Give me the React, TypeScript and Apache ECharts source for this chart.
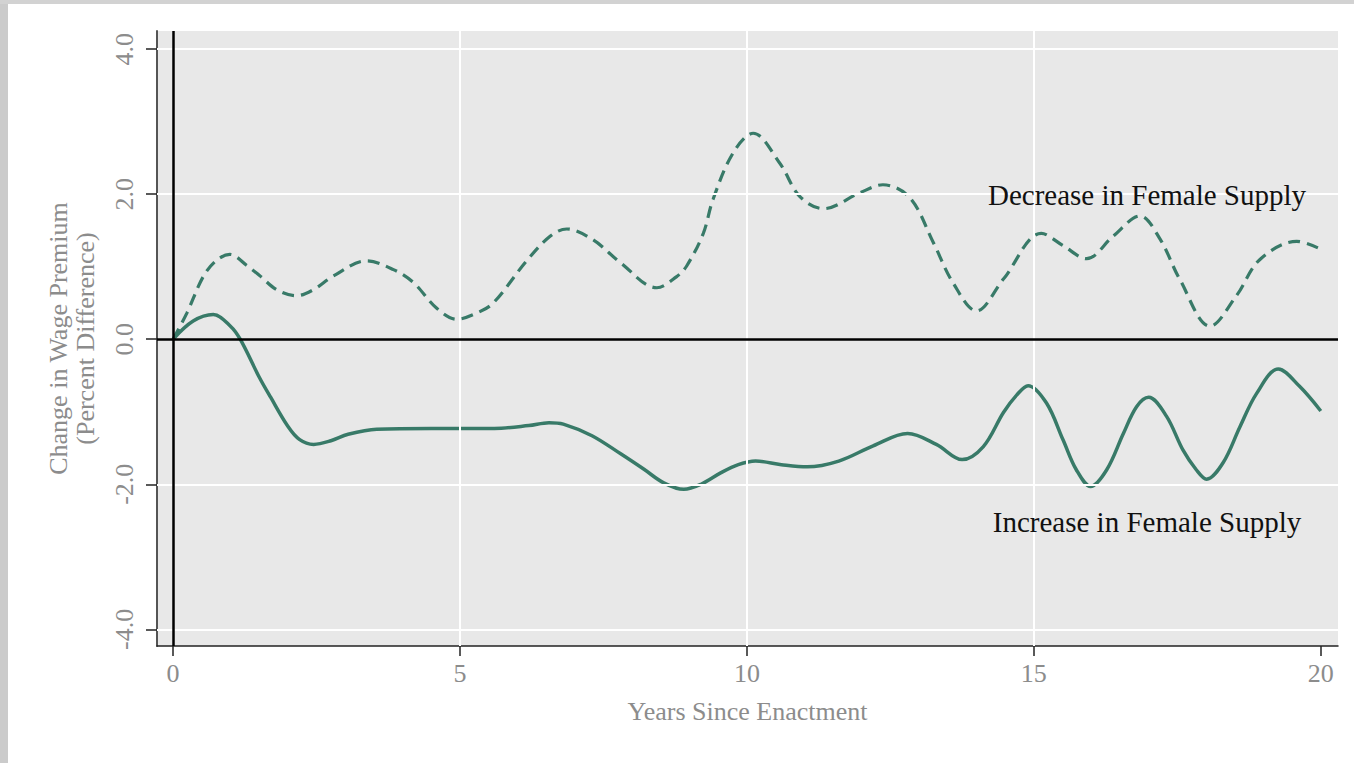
import React, { useEffect, useRef } from "react";
import * as echarts from "echarts";

// Years since enactment and change in wage premium (percent difference)
const increaseT = [0, 0.35, 0.7, 1.0, 1.17, 1.5, 1.7, 2.0, 2.2, 2.45, 2.75, 3.05, 3.55, 4.5, 5.6, 6.2, 6.55, 6.8, 7.3, 7.8, 8.2, 8.55, 8.9, 9.2, 9.55, 9.85, 10.15, 10.6, 11.05, 11.6, 12.2, 12.8, 13.3, 13.75, 14.12, 14.47, 14.7, 14.9, 15.22, 15.51, 15.74, 15.99, 16.27, 16.56, 16.79, 17.0, 17.31, 17.6, 17.83, 18.01, 18.3, 18.59, 18.88, 19.26, 19.63, 20.0];
const increaseV = [0, 0.25, 0.34, 0.18, 0, -0.52, -0.8, -1.2, -1.38, -1.45, -1.4, -1.31, -1.24, -1.23, -1.23, -1.19, -1.15, -1.17, -1.33, -1.58, -1.79, -1.98, -2.07, -2.0, -1.84, -1.73, -1.68, -1.73, -1.76, -1.68, -1.47, -1.3, -1.45, -1.66, -1.48, -1.01, -0.77, -0.64, -0.88, -1.39, -1.8, -2.03, -1.8, -1.3, -0.93, -0.8, -1.06, -1.53, -1.8, -1.93, -1.7, -1.21, -0.75, -0.41, -0.65, -0.99];

const decreaseT = [0, 0.24, 0.53, 0.76, 0.99, 1.28, 1.52, 1.81, 2.15, 2.44, 2.79, 3.37, 3.84, 4.19, 4.59, 4.94, 5.29, 5.58, 6.16, 6.57, 6.86, 7.32, 7.79, 8.43, 8.77, 8.95, 9.24, 9.41, 9.76, 10.11, 10.57, 10.92, 11.33, 11.97, 12.37, 12.84, 13.25, 13.59, 14.0, 14.47, 15.13, 15.51, 15.92, 16.38, 16.85, 17.2, 17.54, 18.07, 18.53, 18.94, 19.58, 19.95];
const decreaseV = [0, 0.36, 0.87, 1.09, 1.17, 1.02, 0.87, 0.68, 0.6, 0.68, 0.87, 1.08, 0.96, 0.78, 0.43, 0.275, 0.36, 0.5, 1.08, 1.42, 1.52, 1.37, 1.06, 0.71, 0.86, 1.01, 1.46, 1.93, 2.57, 2.84, 2.43, 1.97, 1.8, 2.02, 2.13, 1.95, 1.33, 0.78, 0.39, 0.83, 1.46, 1.29, 1.11, 1.42, 1.7, 1.38, 0.83, 0.18, 0.6, 1.1, 1.35, 1.26];

const yTicks = [-4, -2, 0, 2, 4];
const xTicks = [0, 5, 10, 15, 20];
const yGrid = [-4, -2, 2, 4];
const xGrid = [5, 10, 15];

const GRAY = "#8c8c8c";
const GREEN = "#387a68";
const FONT = "Liberation Serif";

export default function App() {
  const ref = useRef<HTMLDivElement>(null);
  useEffect(() => {
    const chart = echarts.init(ref.current!, null, { renderer: "svg" });
    const inc = increaseT.map((t, i) => [t, increaseV[i]]);
    const dec = decreaseT.map((t, i) => [t, decreaseV[i]]);
    const lineStyleBase = { symbol: "none", label: { show: false } };
    chart.setOption({
      animation: false,
      backgroundColor: "#ffffff",
      grid: {
        left: 157,
        right: 16,
        top: 31,
        bottom: 117,
        show: true,
        backgroundColor: "#e8e8e8",
        borderWidth: 0,
      },
      xAxis: {
        type: "value",
        min: -0.28,
        max: 20.3,
        name: "Years Since Enactment",
        nameLocation: "middle",
        nameGap: 52,
        nameTextStyle: { color: GRAY, fontFamily: FONT, fontSize: 26 },
        axisLine: { show: true, onZero: false, lineStyle: { color: "#222", width: 1.5 } },
        axisTick: { show: true, length: 10, customValues: xTicks, lineStyle: { color: "#222", width: 1.5 } },
        axisLabel: {
          customValues: xTicks,
          color: GRAY,
          fontFamily: FONT,
          fontSize: 26,
          margin: 14,
          formatter: (v: number) => String(v),
        },
        splitLine: { show: false },
      },
      yAxis: {
        type: "value",
        min: -4.23,
        max: 4.25,
        name: "Change in Wage Premium\n(Percent Difference)",
        nameLocation: "middle",
        nameRotate: 90,
        nameGap: 58,
        nameTextStyle: { color: GRAY, fontFamily: FONT, fontSize: 26, lineHeight: 27, align: "center" },
        axisLine: { show: true, onZero: false, lineStyle: { color: "#555", width: 2 } },
        axisTick: { show: true, length: 11, customValues: yTicks, lineStyle: { color: "#222", width: 1.5 } },
        axisLabel: {
          customValues: yTicks,
          rotate: 90,
          color: GRAY,
          fontFamily: FONT,
          fontSize: 26,
          margin: 20,
          formatter: (v: number) => v.toFixed(1),
        },
        splitLine: { show: false },
      },
      series: [
        {
          type: "line",
          data: [],
          z: 1,
          ...lineStyleBase,
          markLine: {
            silent: true,
            symbol: "none",
            label: { show: false },
            lineStyle: { color: "#ffffff", width: 2, type: "solid" },
            data: [
              ...yGrid.map((v) => ({ yAxis: v })),
              ...xGrid.map((v) => ({ xAxis: v })),
            ],
          },
        },
        {
          type: "line",
          data: [],
          z: 2,
          ...lineStyleBase,
          markLine: {
            silent: true,
            symbol: "none",
            label: { show: false },
            lineStyle: { color: "#000000", width: 2.5, type: "solid" },
            data: [{ yAxis: 0 }, { xAxis: 0 }],
          },
        },
        {
          name: "Decrease in Female Supply",
          type: "line",
          data: dec,
          smooth: 0.35,
          z: 3,
          ...lineStyleBase,
          lineStyle: { color: GREEN, width: 3.2, type: [12, 7] },
        },
        {
          name: "Increase in Female Supply",
          type: "line",
          data: inc,
          smooth: 0.35,
          z: 3,
          ...lineStyleBase,
          lineStyle: { color: GREEN, width: 3.5, type: "solid" },
        },
      ],
      graphic: [
        { type: "rect", left: 0, top: 0, z: 100, shape: { width: 8, height: 763 }, style: { fill: "#cbcbcb" }, silent: true },
        { type: "rect", left: 0, top: 0, z: 100, shape: { width: 1354, height: 4 }, style: { fill: "#d2d2d2" }, silent: true },
        {
          type: "text",
          x: 1147,
          y: 195,
          z: 100,
          silent: true,
          style: { text: "Decrease in Female Supply", fill: "#111", fontFamily: FONT, fontSize: 29, align: "center", verticalAlign: "middle" },
        },
        {
          type: "text",
          x: 1147,
          y: 522,
          z: 100,
          silent: true,
          style: { text: "Increase in Female Supply", fill: "#111", fontFamily: FONT, fontSize: 29, align: "center", verticalAlign: "middle" },
        },
      ],
    });
    return () => chart.dispose();
  }, []);
  return (
    <div
      ref={ref}
      style={{ position: "fixed", left: 0, top: 0, width: 1354, height: 763 }}
    />
  );
}
